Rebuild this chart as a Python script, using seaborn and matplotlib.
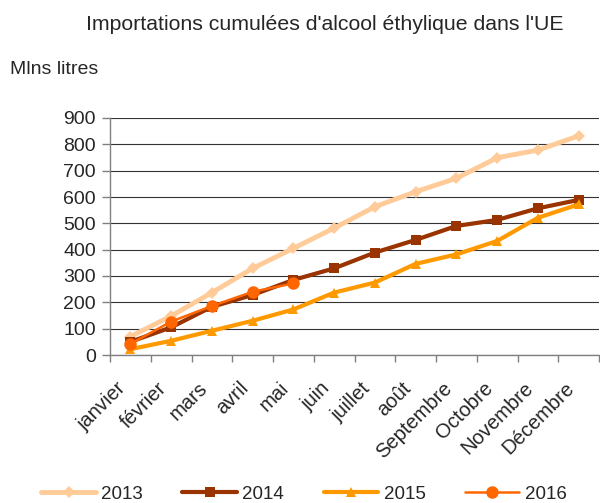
import numpy as np
import pandas as pd
import seaborn as sns
import matplotlib.pyplot as plt
from matplotlib.ticker import FixedLocator, MultipleLocator
from matplotlib.transforms import ScaledTranslation

# Data (millions of litres, cumulative)
months = ['janvier', 'février', 'mars', 'avril', 'mai', 'juin', 'juillet',
          'août', 'Septembre', 'Octobre', 'Novembre', 'Décembre']
imp_2013 = [70, 148, 237, 329, 405, 482, 563, 620, 671, 749, 778, 832]
imp_2014 = [50, 105, 183, 228, 285, 329, 389, 437, 490, 513, 557, 589]
imp_2015 = [22, 54, 92, 130, 173, 237, 275, 346, 382, 433, 521, 572]
imp_2016 = [42, 127, 186, 240, 272]

sns.set_theme(style="white")
plt.rcParams['font.family'] = ['Liberation Sans', 'DejaVu Sans']

x = np.arange(len(months))
fig = plt.figure(figsize=(6, 5.03), dpi=100)
ax = fig.add_axes([110 / 600, 1 - 355 / 503, 489 / 600, 237 / 503])

styles = [
    ('2013', imp_2013, '#FFCC99', 'D', 3.5, 6),
    ('2014', imp_2014, '#993300', 's', 3.0, 7),
    ('2015', imp_2015, '#FF9900', '^', 3.0, 7),
    ('2016', imp_2016, '#FF6600', 'o', 1.8, 9),
]
for name, vals, col, mk, lw, ms in styles:
    sns.lineplot(x=x[:len(vals)], y=vals, ax=ax, color=col, marker=mk,
                 linewidth=lw, markersize=ms, markeredgewidth=0, label=name)

ax.set_xlim(-0.5, 11.5)
ax.set_ylim(0, 900)
ax.yaxis.set_major_locator(MultipleLocator(100))
ax.grid(axis='y', color='#333333', linewidth=0.8)
ax.set_axisbelow(True)

ax.set_xticks(x)
ax.xaxis.set_minor_locator(FixedLocator(np.arange(-0.5, 12, 1)))
ax.tick_params(axis='x', which='major', length=0, pad=17)
ax.tick_params(axis='x', which='minor', length=5, color='#808080', width=1,
               direction='out', bottom=True)
ax.tick_params(axis='y', length=6, color='#808080', width=1, direction='out',
               left=True, labelsize=14, pad=4)
ax.set_xticklabels(months, rotation=45, ha='right', rotation_mode='anchor',
                   fontsize=14.5)
# month labels sit slightly left of the category centre, like the original
shift = ScaledTranslation(-14 / 100, 0, fig.dpi_scale_trans)
for lbl in ax.get_xticklabels():
    lbl.set_transform(lbl.get_transform() + shift)

for s in ['top', 'right']:
    ax.spines[s].set_visible(False)
for s in ['left', 'bottom']:
    ax.spines[s].set_color('#808080')
    ax.spines[s].set_linewidth(1)

fig.text(325 / 600, 1 - 25 / 503, "Importations cumulées d'alcool éthylique dans l'UE",
         ha='center', va='center', fontsize=15.3)
fig.text(10 / 600, 1 - 70 / 503, 'Mlns litres', ha='left', va='center',
         fontsize=14)

ax.legend(loc='center', bbox_to_anchor=(304 / 600, 1 - 494 / 503),
          bbox_transform=fig.transFigure, ncol=4, frameon=False,
          handlelength=2.9, columnspacing=2.1, handletextpad=0.3,
          fontsize=13.5, borderpad=0)

fig.savefig('out.png', dpi=100)
